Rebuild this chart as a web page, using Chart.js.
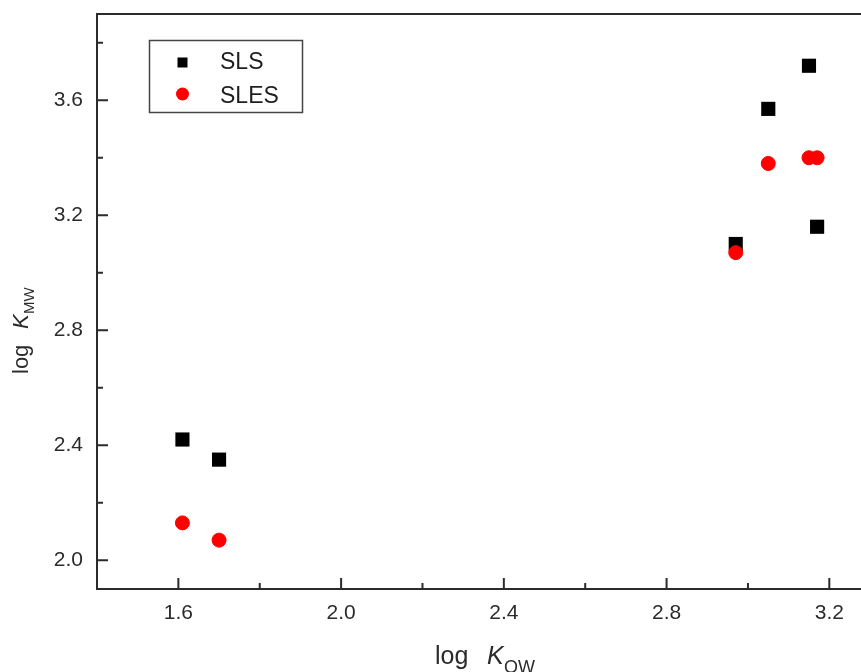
<!DOCTYPE html>
<html>
<head>
<meta charset="utf-8">
<script src="https://cdn.jsdelivr.net/npm/chart.js@4/dist/chart.umd.min.js"></script>
<style>
  html, body { margin: 0; padding: 0; background: #fff; overflow: hidden; }
  #wrap { width: 880px; height: 672px; }
</style>
</head>
<body>
<div id="wrap"><canvas id="c" width="880" height="672"></canvas></div>
<script>
// ---- data ----
const seriesNames = ['SLS', 'SLES'];
const slsX  = [1.61, 1.70, 2.97, 3.05, 3.15, 3.17];
const slsY  = [2.42, 2.35, 3.10, 3.57, 3.72, 3.16];
const slesX = [1.61, 1.70, 2.97, 3.05, 3.15, 3.17];
const slesY = [2.13, 2.07, 3.07, 3.38, 3.40, 3.40];
const xMajorTicks = [1.6, 2.0, 2.4, 2.8, 3.2];
const xMinorTicks = [1.8, 2.2, 2.6, 3.0];
const yMajorTicks = [2.0, 2.4, 2.8, 3.2, 3.6];
const yMinorTicks = [2.2, 2.6, 3.0, 3.4, 3.8];

const toPts = (xs, ys) => xs.map((x, i) => ({x: x, y: ys[i]}));

const AXIS_COLOR = '#2b2b2b';
const TEXT_COLOR = '#2b2b2b';
const FONT = '"Liberation Sans", Arial, sans-serif';

const framePlugin = {
  id: 'frame',
  beforeDatasetsDraw(chart) {
    const ctx = chart.ctx;
    const a = chart.chartArea;
    const xs = chart.scales.x, ys = chart.scales.y;
    ctx.save();
    ctx.strokeStyle = AXIS_COLOR;
    ctx.lineWidth = 2;
    ctx.beginPath();
    ctx.rect(a.left, a.top, a.right - a.left, a.bottom - a.top);
    ctx.stroke();
    ctx.beginPath();
    xMajorTicks.forEach(v => { const p = xs.getPixelForValue(v); ctx.moveTo(p, a.bottom); ctx.lineTo(p, a.bottom - 11); });
    xMinorTicks.forEach(v => { const p = xs.getPixelForValue(v); ctx.moveTo(p, a.bottom); ctx.lineTo(p, a.bottom - 6); });
    yMajorTicks.forEach(v => { const p = ys.getPixelForValue(v); ctx.moveTo(a.left, p); ctx.lineTo(a.left + 11, p); });
    yMinorTicks.forEach(v => { const p = ys.getPixelForValue(v); ctx.moveTo(a.left, p); ctx.lineTo(a.left + 6, p); });
    ctx.stroke();
    ctx.restore();
  },
  afterDraw(chart) {
    const ctx = chart.ctx;
    ctx.save();
    ctx.fillStyle = TEXT_COLOR;
    ctx.textBaseline = 'alphabetic';
    ctx.textAlign = 'left';
    // x title
    ctx.font = '25px ' + FONT;
    ctx.fillText('log', 435, 664);
    ctx.font = 'italic 25px ' + FONT;
    ctx.fillText('K', 487, 664);
    ctx.font = '18px ' + FONT;
    ctx.fillText('OW', 504, 673);
    // y title
    ctx.save();
    ctx.translate(28, 374);
    ctx.rotate(-Math.PI / 2);
    ctx.font = '22px ' + FONT;
    ctx.fillText('log', 0, 0);
    ctx.font = 'italic 22px ' + FONT;
    ctx.fillText('K', 45, 0);
    ctx.font = '15px ' + FONT;
    ctx.fillText('MW', 60, 6);
    ctx.restore();
    // legend
    ctx.strokeStyle = '#444';
    ctx.lineWidth = 1.5;
    ctx.strokeRect(149.5, 40.5, 153, 72);
    const ds = chart.data.datasets;
    ctx.fillStyle = ds[0].backgroundColor;
    ctx.fillRect(177.5, 57.5, 10, 10);
    ctx.fillStyle = ds[1].backgroundColor;
    ctx.beginPath();
    ctx.arc(182.5, 94, 6.5, 0, Math.PI * 2);
    ctx.fill();
    ctx.fillStyle = '#1e1e1e';
    ctx.font = '23px ' + FONT;
    ctx.fillText(ds[0].label, 220, 69);
    ctx.fillText(ds[1].label, 220, 102.5);
    ctx.restore();
  }
};

new Chart(document.getElementById('c'), {
  type: 'scatter',
  data: {
    datasets: [
      {
        label: seriesNames[0],
        data: toPts(slsX, slsY),
        pointStyle: 'rect',
        pointRadius: 10,
        pointHoverRadius: 10,
        backgroundColor: '#000000',
        borderColor: '#000000',
        borderWidth: 0,
        order: 1
      },
      {
        label: seriesNames[1],
        data: toPts(slesX, slesY),
        pointStyle: 'circle',
        pointRadius: 7,
        pointHoverRadius: 7,
        backgroundColor: '#ff0000',
        borderColor: '#ff0000',
        borderWidth: 1,
        order: 0
      }
    ]
  },
  options: {
    responsive: false,
    animation: false,
    devicePixelRatio: 1,
    layout: { padding: { top: 14, right: 10, left: 0, bottom: 0 } },
    plugins: { legend: { display: false }, tooltip: { enabled: false } },
    scales: {
      x: {
        type: 'linear',
        min: 1.4,
        max: 3.3,
        grid: { display: false, drawTicks: false },
        border: { display: false },
        afterBuildTicks: s => { s.ticks = xMajorTicks.map(v => ({value: v})); },
        afterFit: s => { s.height = 83; s.paddingLeft = 0; s.paddingRight = 0; },
        ticks: {
          padding: 12,
          color: TEXT_COLOR,
          font: { family: FONT, size: 21 },
          maxRotation: 0,
          callback: v => v.toFixed(1)
        }
      },
      y: {
        type: 'linear',
        min: 1.9,
        max: 3.9,
        grid: { display: false, drawTicks: false },
        border: { display: false },
        afterBuildTicks: s => { s.ticks = yMajorTicks.map(v => ({value: v})); },
        afterFit: s => { s.width = 97; s.paddingTop = 0; s.paddingBottom = 0; },
        ticks: {
          padding: 14,
          color: TEXT_COLOR,
          font: { family: FONT, size: 21 },
          callback: v => v.toFixed(1)
        }
      }
    }
  },
  plugins: [framePlugin]
});
</script>
</body>
</html>
